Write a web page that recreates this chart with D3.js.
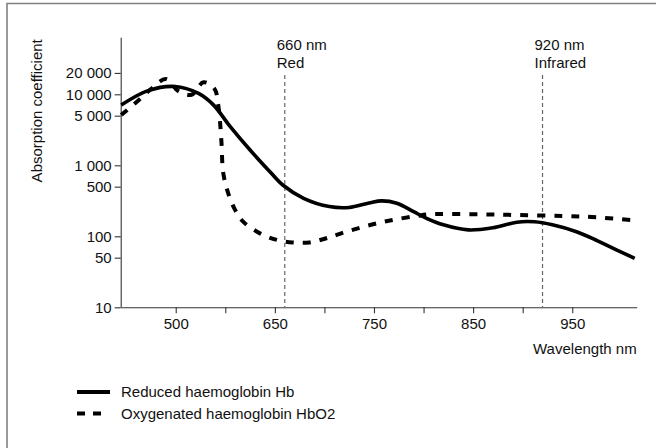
<!DOCTYPE html>
<html>
<head>
<meta charset="utf-8">
<script src="https://cdn.jsdelivr.net/npm/d3@7"></script>
<style>
  body { margin: 0; background: #fff; }
  svg text { font-family: "Liberation Sans", Arial, Helvetica, sans-serif; fill: #111; }
</style>
</head>
<body>
<svg width="656" height="448"></svg>
<script>
// wavelength (nm) and absorption coefficient
var hbWavelength = [495, 522, 549, 573, 588, 605, 625, 645, 658, 679, 705, 725, 745, 758, 773, 790, 803, 820, 845, 870, 894, 912, 930, 955, 975, 995, 1013];
var hbAbsorption = [7060, 11250, 12900, 10300, 7100, 3500, 1640, 813, 528, 343, 262, 255, 295, 315, 292, 222, 179, 145, 123, 132, 158, 160, 145, 115, 87, 64, 49];

var hbo2Wavelength = [495, 512, 526, 540, 553, 566, 578, 589, 593, 596, 598, 603, 610, 618, 635, 652, 668, 685, 702, 722, 746, 769, 793, 806, 857, 897, 941, 975, 1015];
var hbo2Absorption = [5100, 8130, 12170, 16400, 11000, 9860, 14750, 12000, 6900, 2270, 771, 403, 234, 161, 110, 89, 82, 82, 94, 116, 144, 170, 193, 204, 204, 199, 193, 185, 166];

var xTickValues = [550, 600, 650, 700, 750, 800, 850, 900, 950];
var xTickLabels = ["500", "", "650", "", "750", "", "850", "", "950"];
var yTickValues = [10, 50, 100, 500, 1000, 5000, 10000, 20000];
var yTickLabels = ["10", "50", "100", "500", "1 000", "5 000", "10 000", "20 000"];

var markerNm = [660, 920];
var markerTop = ["660 nm", "920 nm"];
var markerBottom = ["Red", "Infrared"];

var legendLabels = ["Reduced haemoglobin Hb", "Oxygenated haemoglobin HbO2"];

var svg = d3.select("svg");

// frame (top and left only)
svg.append("path")
  .attr("d", "M7,448V3.5H656")
  .attr("fill", "none")
  .attr("stroke", "#808080")
  .attr("stroke-width", 1.6);

var xScale = d3.scaleLinear().domain([494.5, 1015]).range([120.7, 636.7]);
var yScale = d3.scaleLog().domain([10, 63500]).range([307.3, 37.3]);

var xAxis = d3.axisBottom(xScale)
  .tickValues(xTickValues)
  .tickFormat(function(d, i) { return xTickLabels[i]; })
  .tickSize(6)
  .tickSizeOuter(0)
  .tickPadding(5);

var yAxis = d3.axisLeft(yScale)
  .tickValues(yTickValues)
  .tickFormat(function(d, i) { return yTickLabels[i]; })
  .tickSize(6)
  .tickSizeOuter(0)
  .tickPadding(3);

var gx = svg.append("g")
  .attr("transform", "translate(0," + yScale(10) + ")")
  .call(xAxis);
var gy = svg.append("g")
  .attr("transform", "translate(" + xScale(494.5) + ",0)")
  .call(yAxis);

[gx, gy].forEach(function(g) {
  g.selectAll("path, line").attr("stroke", "#333").attr("stroke-width", 1.1);
  g.selectAll("text").style("font-size", "15px").attr("fill", "#111");
});

// axis titles
svg.append("text")
  .attr("x", 636.7)
  .attr("y", 354)
  .attr("text-anchor", "end")
  .style("font-size", "15px")
  .text("Wavelength nm");

svg.append("text")
  .attr("transform", "translate(42,110.8) rotate(-90)")
  .attr("text-anchor", "middle")
  .style("font-size", "15px")
  .text("Absorption coefficient");

// vertical marker lines for the two wavelengths
markerNm.forEach(function(nm, i) {
  var mx = xScale(nm);
  svg.append("line")
    .attr("x1", mx).attr("x2", mx)
    .attr("y1", 75).attr("y2", yScale(10))
    .attr("stroke", "#666")
    .attr("stroke-width", 1.2)
    .attr("stroke-dasharray", "4,3");
  svg.append("text")
    .attr("x", mx - 8)
    .attr("y", 50.3)
    .style("font-size", "15px")
    .text(markerTop[i]);
  svg.append("text")
    .attr("x", mx - 8)
    .attr("y", 67.6)
    .style("font-size", "15px")
    .text(markerBottom[i]);
});

var line = d3.line()
  .x(function(d) { return xScale(d[0]); })
  .y(function(d) { return yScale(d[1]); })
  .curve(d3.curveCatmullRom.alpha(0.5));

var hbData = d3.zip(hbWavelength, hbAbsorption);
var hbo2Data = d3.zip(hbo2Wavelength, hbo2Absorption);

svg.append("path")
  .datum(hbo2Data)
  .attr("d", line)
  .attr("fill", "none")
  .attr("stroke", "#000")
  .attr("stroke-width", 4)
  .attr("stroke-dasharray", "8,9");

svg.append("path")
  .datum(hbData)
  .attr("d", line)
  .attr("fill", "none")
  .attr("stroke", "#000")
  .attr("stroke-width", 3.6);

// legend
var legend = svg.append("g");
legendLabels.forEach(function(label, i) {
  var ly = 392 + i * 21.5;
  legend.append("line")
    .attr("x1", 77).attr("x2", i === 1 ? 102 : 110)
    .attr("y1", ly).attr("y2", ly)
    .attr("stroke", "#000")
    .attr("stroke-width", 4)
    .attr("stroke-dasharray", i === 1 ? "8,8" : null);
  legend.append("text")
    .attr("x", 121)
    .attr("y", ly)
    .attr("dy", "0.36em")
    .style("font-size", "15px")
    .text(label);
});
</script>
</body>
</html>
